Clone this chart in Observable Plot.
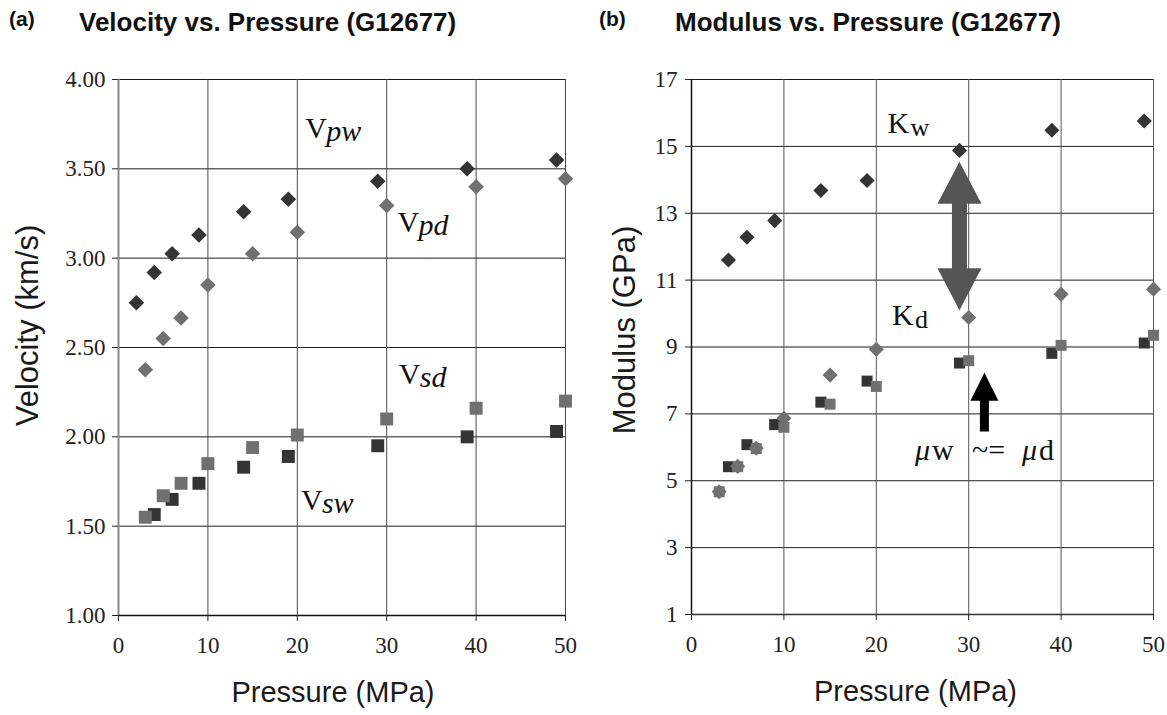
<!DOCTYPE html>
<html><head><meta charset="utf-8">
<script src="https://cdn.jsdelivr.net/npm/d3@7"></script>
<script src="https://cdn.jsdelivr.net/npm/@observablehq/plot@0.6"></script>
<style>
html,body{margin:0;padding:0;background:#fff;}
#wrap{position:relative;width:1167px;height:715px;overflow:hidden;font-family:"Liberation Sans",Arial,sans-serif;color:#111;}
.tag{position:absolute;font-weight:bold;font-size:21px;line-height:24px;}
.title{position:absolute;font-weight:bold;font-size:26px;line-height:30px;}
.panel{position:absolute;top:60px;}
.panel svg{display:block;overflow:visible;}
</style></head><body>
<div id="wrap">
  <div class="tag" style="left:9px;top:7px">(a)</div>
  <div class="title" style="left:79px;top:7px">Velocity vs. Pressure (G12677)</div>
  <div class="tag" style="left:599px;top:7px">(b)</div>
  <div class="title" style="left:675px;top:7px">Modulus vs. Pressure (G12677)</div>
  <div id="pa" class="panel" style="left:0px"></div>
  <div id="pb" class="panel" style="left:580px"></div>
</div>
<script>
// ---------- data: panel (a) velocity ----------
const xTicks = [0, 10, 20, 30, 40, 50];
const yTicksA = [1.0, 1.5, 2.0, 2.5, 3.0, 3.5, 4.0];
const wetP = [4, 6, 9, 14, 19, 29, 39, 49];
const dryP = [3, 5, 7, 10, 15, 20, 30, 40, 50];
const vpwP = [2, 4, 6, 9, 14, 19, 29, 39, 49];
const vpwV = [2.75, 2.92, 3.025, 3.13, 3.26, 3.33, 3.43, 3.50, 3.55];
const vpdV = [2.375, 2.55, 2.665, 2.85, 3.025, 3.145, 3.295, 3.40, 3.445];
const vswV = [1.565, 1.65, 1.74, 1.83, 1.89, 1.95, 2.00, 2.03];
const vsdV = [1.55, 1.67, 1.74, 1.85, 1.94, 2.01, 2.10, 2.16, 2.20];
const annotA = [
  {x: 20.9, y: 3.675, main: "V", sub: "pw"},
  {x: 31.2, y: 3.145, main: "V", sub: "pd"},
  {x: 31.35, y: 2.297, main: "V", sub: "sd"},
  {x: 20.4, y: 1.588, main: "V", sub: "sw"}
];
const labelsA = {x: "Pressure (MPa)", y: "Velocity (km/s)"};

// ---------- data: panel (b) modulus ----------
const yTicksB = [1, 3, 5, 7, 9, 11, 13, 15, 17];
const kwV = [11.6, 12.28, 12.78, 13.68, 13.98, 14.88, 15.48, 15.76];
const kdV = [4.67, 5.43, 5.97, 6.87, 8.16, 8.93, 9.88, 10.58, 10.73];
const muwV = [5.42, 6.08, 6.68, 7.35, 7.98, 8.52, 8.81, 9.12];
const mudV = [4.67, 5.42, 5.96, 6.6, 7.29, 7.82, 8.59, 9.05, 9.35];
const annotB = [
  {x: 21.2, y: 15.39, main: "K", sub: "w"},
  {x: 21.7, y: 9.66, main: "K", sub: "d"}
];
const muNote = {x: 24.2, y: 5.62};
const muParts = [
  {t: "\u03bc", off: 0, italic: true},
  {t: "w", off: 17, italic: false},
  {t: "~=", off: 57, italic: false},
  {t: "\u03bc", off: 107, italic: true},
  {t: "d", off: 124, italic: false}
];
const arrowDouble = {x: 29.0, from: 10.10, to: 14.54};
const arrowSingle = {x: 31.7, from: 6.47, to: 8.23};
const labelsB = {x: "Pressure (MPa)", y: "Modulus (GPa)"};

// ---------- helpers ----------
const rows = (ps, vs) => ps.map((p, i) => ({p, v: vs[i]}));
const DARK = "#343434", LIGHT = "#707070";
const SERIF = "Liberation Serif";
const SANS = "Liberation Sans";

function arrowShape(head, hw, sw, both) {
  return {
    draw(ctx, l) {
      const h = Math.min(head, l / (both ? 2 : 1));
      if (both) {
        ctx.moveTo(0, 0);
        ctx.lineTo(hw, -h); ctx.lineTo(sw, -h);
        ctx.lineTo(sw, -(l - h)); ctx.lineTo(hw, -(l - h));
        ctx.lineTo(0, -l);
        ctx.lineTo(-hw, -(l - h)); ctx.lineTo(-sw, -(l - h));
        ctx.lineTo(-sw, -h); ctx.lineTo(-hw, -h);
        ctx.closePath();
      } else {
        ctx.moveTo(-sw, 0); ctx.lineTo(-sw, -(l - h)); ctx.lineTo(-hw, -(l - h));
        ctx.lineTo(0, -l); ctx.lineTo(hw, -(l - h)); ctx.lineTo(sw, -(l - h));
        ctx.lineTo(sw, 0); ctx.closePath();
      }
    }
  };
}

function annotMarks(annot, subDx, subItalic, subSize) {
  return [
    Plot.text(annot, {x: "x", y: "y", text: "main", textAnchor: "start", lineAnchor: "bottom",
      fontFamily: SERIF, fontSize: 30, fill: "#111"}),
    Plot.text(annot, {x: "x", y: "y", text: "sub", textAnchor: "start", lineAnchor: "bottom",
      dx: subDx, dy: 3, fontFamily: SERIF, fontSize: subSize, fontStyle: subItalic ? "italic" : "normal", fill: "#111"})
  ];
}

function axisLabels(lab, xdx, ydx, ydy) {
  return [
    Plot.text([lab.x], {text: d => d, frameAnchor: "bottom", textAnchor: "middle", lineAnchor: "middle", dy: 77, dx: xdx,
      fontFamily: SANS, fontSize: 29, fill: "#1a1a1a"}),
    Plot.text([lab.y], {text: d => d, frameAnchor: "left", textAnchor: "middle", rotate: -90, lineAnchor: "middle", dx: ydx, dy: ydy,
      fontFamily: SANS, fontSize: 31, fill: "#1a1a1a"})
  ];
}

const tickText = {fontFamily: SERIF, fontSize: 23, fill: "#222"};

// ---------- panel (a) ----------
const A = {width: 580, height: 655, mt: 19, mb: 100, ml: 118, mr: 15};
const plotA = Plot.plot({
  width: A.width, height: A.height,
  marginTop: A.mt, marginBottom: A.mb, marginLeft: A.ml, marginRight: A.mr,
  style: {background: "transparent", color: "#222"},
  x: {domain: [0, 50]},
  y: {domain: [1, 4]},
  marks: [
    Plot.gridY({ticks: yTicksA, stroke: "#1c1c1c", strokeOpacity: 1}),
    Plot.gridX({ticks: xTicks.slice(1), stroke: "#4a4a4a", strokeOpacity: 1}),
    Plot.ruleX([0], {stroke: "#8a8a8a", strokeWidth: 2}),
    Plot.ruleY([1], {stroke: "#111", strokeWidth: 1.5}),
    Plot.axisY({ticks: yTicksA, tickFormat: d => d.toFixed(2), tickSize: 6, tickPadding: 7, label: null, ...tickText}),
    Plot.axisX({ticks: xTicks, tickFormat: d => String(d), tickSize: 6, tickPadding: 15, label: null, ...tickText}),
    Plot.dot(rows(vpwP, vpwV), {x: "p", y: "v", symbol: "diamond2", r: 7, fill: DARK, stroke: "none"}),
    Plot.dot(rows(dryP, vpdV), {x: "p", y: "v", symbol: "diamond2", r: 7, fill: LIGHT, stroke: "none"}),
    Plot.dot(rows(wetP, vswV), {x: "p", y: "v", symbol: "square", r: 7.3, fill: DARK, stroke: "none"}),
    Plot.dot(rows(dryP, vsdV), {x: "p", y: "v", symbol: "square", r: 7.3, fill: LIGHT, stroke: "none"}),
    ...annotMarks(annotA, 21, true, 30),
    ...axisLabels(labelsA, -9, -90, -22)
  ]
});
document.getElementById("pa").appendChild(plotA);

// ---------- panel (b) ----------
const B = {width: 587, height: 655, mt: 19, mb: 101, ml: 111, mr: 14};
const yDomB = [1, 17];
const pxPerUnitB = (B.height - B.mt - B.mb) / (yDomB[1] - yDomB[0]);
const plotB = Plot.plot({
  width: B.width, height: B.height,
  marginTop: B.mt, marginBottom: B.mb, marginLeft: B.ml, marginRight: B.mr,
  style: {background: "transparent", color: "#222"},
  x: {domain: [0, 50]},
  y: {domain: yDomB},
  marks: [
    Plot.gridY({ticks: yTicksB, stroke: "#1c1c1c", strokeOpacity: 1}),
    Plot.gridX({ticks: xTicks.slice(1), stroke: "#555", strokeOpacity: 1}),
    Plot.ruleX([0], {stroke: "#111", strokeWidth: 1.5}),
    Plot.ruleY([1], {stroke: "#333", strokeWidth: 1.5}),
    Plot.axisY({ticks: yTicksB, tickFormat: d => String(d), tickSize: 6, tickPadding: 8, label: null, ...tickText}),
    Plot.axisX({ticks: xTicks, tickFormat: d => String(d), tickSize: 6, tickPadding: 15, label: null, ...tickText}),
    Plot.dot(rows(wetP, kwV), {x: "p", y: "v", symbol: "diamond2", r: 6.8, fill: DARK, stroke: "none"}),
    Plot.dot(rows(wetP, muwV), {x: "p", y: "v", symbol: "square", r: 6.2, fill: DARK, stroke: "none"}),
    Plot.dot(rows(dryP, mudV), {x: "p", y: "v", symbol: "square", r: 6.2, fill: LIGHT, stroke: "none"}),
    Plot.dot(rows(dryP, kdV), {x: "p", y: "v", symbol: "diamond2", r: 6.8, fill: LIGHT, stroke: "none"}),
    Plot.vector([arrowDouble], {
      x: "x", y: "from", length: (arrowDouble.to - arrowDouble.from) * pxPerUnitB, anchor: "start",
      shape: arrowShape(42, 22, 7.5, true), fill: "#555", stroke: "none"}),
    Plot.vector([arrowSingle], {
      x: "x", y: "from", length: (arrowSingle.to - arrowSingle.from) * pxPerUnitB, anchor: "start",
      shape: arrowShape(28, 14, 4.5, false), fill: "#000", stroke: "none"}),
    ...annotMarks(annotB, 23, false, 26),
    ...muParts.map(part => Plot.text([muNote], {x: "x", y: "y", text: () => part.t, textAnchor: "start",
      lineAnchor: "bottom", dx: part.off, fontFamily: SERIF, fontSize: 30,
      fontStyle: part.italic ? "italic" : "normal", fill: "#111"})),
    ...axisLabels(labelsB, -7, -66, -17)
  ]
});
document.getElementById("pb").appendChild(plotB);
</script>
</body></html>
